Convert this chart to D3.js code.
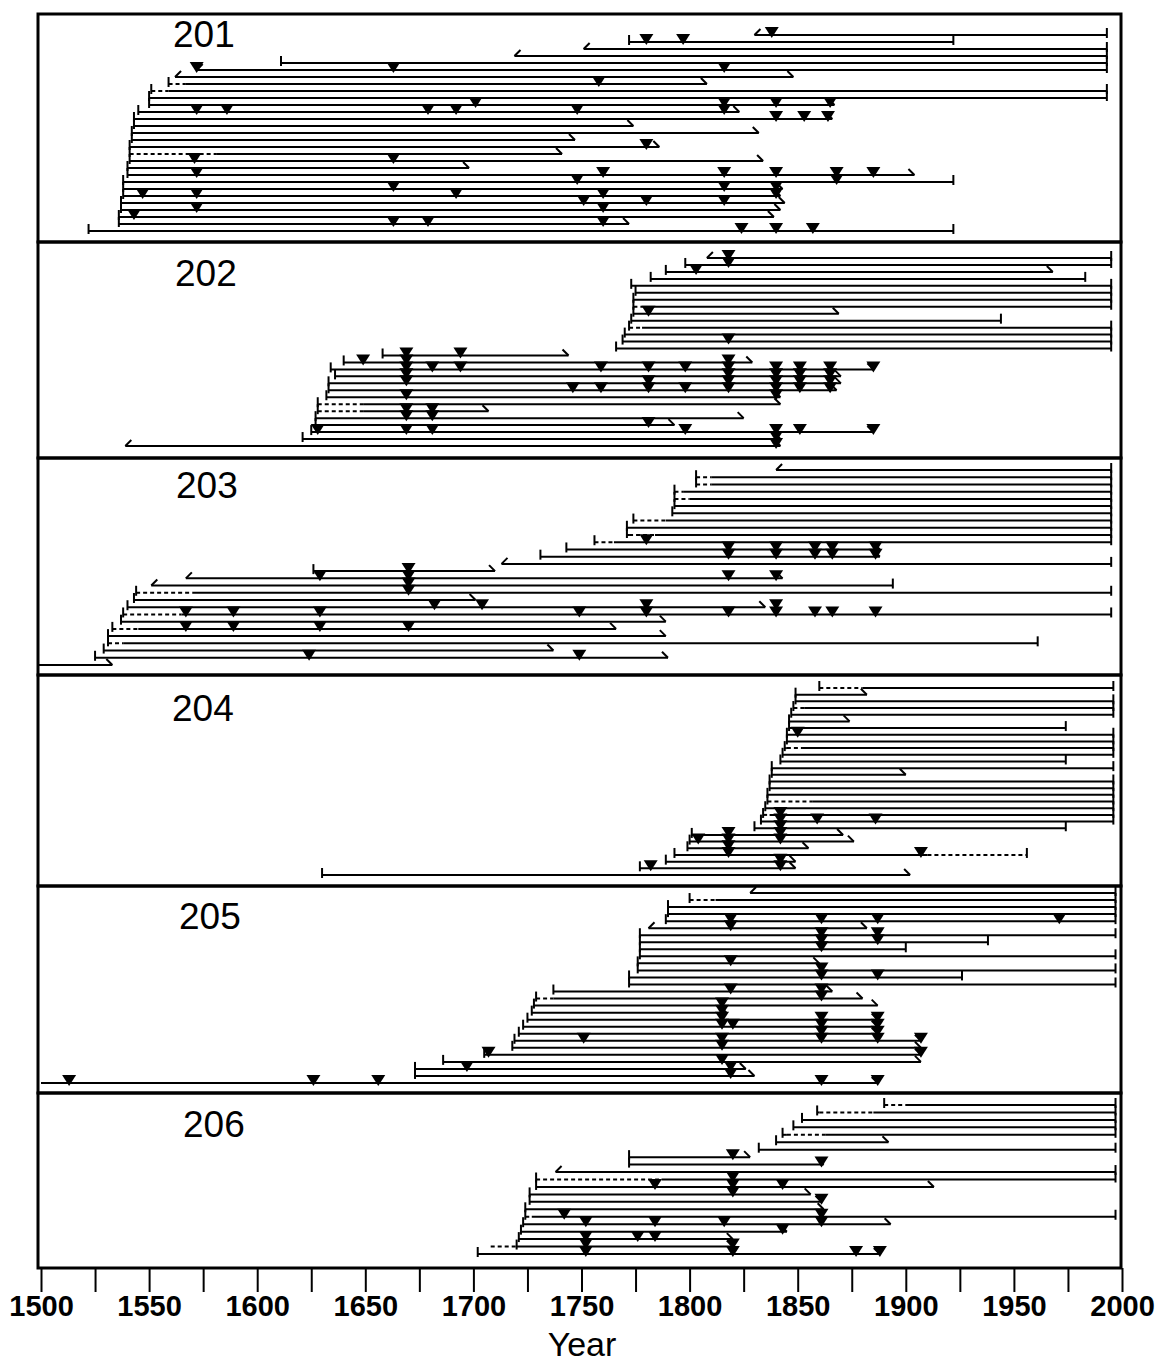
<!DOCTYPE html>
<html><head><meta charset="utf-8">
<script src="https://cdn.jsdelivr.net/npm/d3@7"></script>
<style>body{margin:0;background:#fff}svg{display:block}</style>
</head><body>
<script>
// Site labels and axis years
const panelIds = ["201", "202", "203", "204", "205", "206"];
const tickYears = d3.range(1500, 2001, 25);
const labelYears = d3.range(1500, 2001, 50);

// One record per sampled tree, top to bottom within each site.
// s/e: first and last year; st: p = pith, i = inner ring, n = none; et: b = bark, o = outer ring
// d: non-recording span (dashed); f: fire-scar years
const trees201 = [
  {s:1830, st:"i", e:1993, et:"b", f:[1838]},
  {s:1772, st:"p", e:1922, et:"b", f:[1780, 1797]},
  {s:1751, st:"i", e:1993, et:"b", f:[]},
  {s:1719, st:"i", e:1993, et:"b", f:[]},
  {s:1611, st:"p", e:1993, et:"b", f:[]},
  {s:1572, st:"i", e:1993, et:"b", f:[1572, 1663, 1816]},
  {s:1562, st:"i", e:1848, et:"o", f:[]},
  {s:1559, st:"p", d:[1559, 1567], e:1808, et:"o", f:[1758]},
  {s:1551, st:"p", d:[1551, 1559], e:1993, et:"b", f:[]},
  {s:1550, st:"p", e:1993, et:"b", f:[]},
  {s:1550, st:"p", e:1867, et:"o", f:[1701, 1816, 1840, 1865]},
  {s:1545, st:"p", e:1823, et:"o", f:[1572, 1586, 1679, 1692, 1748, 1816]},
  {s:1543, st:"p", e:1866, et:"o", f:[1840, 1853, 1864]},
  {s:1543, st:"p", e:1774, et:"o", f:[]},
  {s:1542, st:"p", e:1832, et:"o", f:[]},
  {s:1542, st:"p", e:1747, et:"o", f:[]},
  {s:1541, st:"p", e:1786, et:"o", f:[1780]},
  {s:1541, st:"p", d:[1541, 1581], e:1741, et:"o", f:[]},
  {s:1541, st:"p", e:1834, et:"o", f:[1571, 1663]},
  {s:1540, st:"p", e:1698, et:"o", f:[]},
  {s:1540, st:"p", e:1904, et:"o", f:[1572, 1760, 1816, 1840, 1868, 1885]},
  {s:1538, st:"p", e:1922, et:"b", f:[1748, 1868]},
  {s:1538, st:"p", e:1843, et:"o", f:[1663, 1816, 1840]},
  {s:1538, st:"p", e:1842, et:"o", f:[1547, 1572, 1692, 1760, 1840]},
  {s:1537, st:"p", e:1844, et:"o", f:[1751, 1780, 1816]},
  {s:1537, st:"p", e:1842, et:"o", f:[1572, 1760]},
  {s:1536, st:"p", e:1839, et:"o", f:[1543]},
  {s:1536, st:"p", e:1772, et:"o", f:[1663, 1679, 1760]},
  {s:1522, st:"p", e:1922, et:"b", f:[1824, 1840, 1857]}
];
const trees202 = [
  {s:1808, st:"i", e:1995, et:"b", f:[1818]},
  {s:1798, st:"p", e:1995, et:"b", f:[1818]},
  {s:1789, st:"p", e:1968, et:"o", f:[1803]},
  {s:1782, st:"p", e:1983, et:"b", f:[]},
  {s:1773, st:"p", e:1995, et:"b", f:[]},
  {s:1775, st:"p", e:1995, et:"b", f:[]},
  {s:1774, st:"p", e:1995, et:"b", f:[]},
  {s:1774, st:"p", d:[1774, 1778], e:1995, et:"b", f:[]},
  {s:1774, st:"p", e:1869, et:"o", f:[1781]},
  {s:1773, st:"p", e:1944, et:"b", f:[]},
  {s:1772, st:"p", d:[1772, 1778], e:1995, et:"b", f:[]},
  {s:1770, st:"p", e:1995, et:"b", f:[]},
  {s:1769, st:"p", e:1995, et:"b", f:[1818]},
  {s:1766, st:"p", e:1995, et:"b", f:[]},
  {s:1658, st:"p", e:1744, et:"o", f:[1669, 1694]},
  {s:1640, st:"p", e:1829, et:"o", f:[1649, 1669, 1818]},
  {s:1634, st:"p", e:1885, et:"o", f:[1669, 1681, 1694, 1759, 1781, 1798, 1818, 1840, 1851, 1865, 1885]},
  {s:1636, st:"p", e:1870, et:"o", f:[1669, 1818, 1840, 1851, 1865]},
  {s:1633, st:"p", e:1870, et:"o", f:[1669, 1781, 1818, 1840, 1851, 1865]},
  {s:1633, st:"p", e:1868, et:"o", f:[1746, 1759, 1781, 1798, 1818, 1840, 1851, 1865]},
  {s:1632, st:"p", e:1842, et:"o", f:[1669, 1840]},
  {s:1628, st:"p", d:[1628, 1649], e:1842, et:"o", f:[]},
  {s:1628, st:"p", d:[1628, 1649], e:1707, et:"o", f:[1669, 1681]},
  {s:1627, st:"p", e:1825, et:"o", f:[1669, 1681]},
  {s:1627, st:"p", e:1793, et:"o", f:[1781]},
  {s:1625, st:"p", e:1885, et:"o", f:[1628, 1669, 1681, 1798, 1840, 1851, 1885]},
  {s:1621, st:"p", e:1842, et:"o", f:[1840]},
  {s:1539, st:"i", e:1842, et:"o", f:[1840]}
];
const trees203 = [
  {s:1840, st:"i", e:1995, et:"b", f:[]},
  {s:1803, st:"p", d:[1803, 1810], e:1995, et:"b", f:[]},
  {s:1803, st:"p", d:[1803, 1810], e:1995, et:"b", f:[]},
  {s:1793, st:"p", d:[1793, 1797], e:1995, et:"b", f:[]},
  {s:1793, st:"p", d:[1793, 1800], e:1995, et:"b", f:[]},
  {s:1793, st:"p", e:1995, et:"b", f:[]},
  {s:1792, st:"p", e:1995, et:"b", f:[]},
  {s:1774, st:"p", d:[1774, 1789], e:1995, et:"b", f:[]},
  {s:1771, st:"p", e:1995, et:"b", f:[]},
  {s:1771, st:"p", d:[1772, 1784], e:1995, et:"b", f:[]},
  {s:1756, st:"p", d:[1756, 1765], e:1995, et:"b", f:[1780]},
  {s:1743, st:"p", e:1888, et:"o", f:[1818, 1840, 1858, 1866, 1886]},
  {s:1731, st:"p", e:1888, et:"o", f:[1818, 1840, 1858, 1866, 1886]},
  {s:1713, st:"i", e:1995, et:"b", f:[]},
  {s:1626, st:"p", e:1710, et:"o", f:[1670]},
  {s:1567, st:"i", e:1843, et:"o", f:[1629, 1670, 1818, 1840]},
  {s:1551, st:"i", e:1894, et:"b", f:[1670]},
  {s:1544, st:"p", d:[1544, 1570], e:1995, et:"b", f:[1670]},
  {s:1543, st:"p", e:1701, et:"o", f:[]},
  {s:1540, st:"p", e:1835, et:"o", f:[1682, 1704, 1780, 1840]},
  {s:1538, st:"p", d:[1538, 1565], e:1995, et:"b", f:[1567, 1589, 1629, 1749, 1780, 1818, 1840, 1858, 1866, 1886]},
  {s:1537, st:"p", e:1789, et:"o", f:[]},
  {s:1533, st:"p", d:[1533, 1545], e:1766, et:"o", f:[1567, 1589, 1629, 1670]},
  {s:1531, st:"p", e:1789, et:"o", f:[]},
  {s:1531, st:"p", d:[1531, 1538], e:1961, et:"b", f:[]},
  {s:1529, st:"p", e:1737, et:"o", f:[]},
  {s:1525, st:"p", e:1790, et:"o", f:[1624, 1749]},
  {s:1499, st:"n", e:1533, et:"o", f:[]}
];
const trees204 = [
  {s:1860, st:"p", d:[1860, 1880], e:1996, et:"b", f:[]},
  {s:1849, st:"p", e:1882, et:"o", f:[]},
  {s:1849, st:"p", e:1996, et:"b", f:[]},
  {s:1848, st:"p", d:[1848, 1853], e:1996, et:"b", f:[]},
  {s:1847, st:"p", e:1996, et:"b", f:[]},
  {s:1846, st:"p", e:1874, et:"o", f:[]},
  {s:1846, st:"p", e:1974, et:"b", f:[]},
  {s:1845, st:"p", e:1996, et:"b", f:[1850]},
  {s:1845, st:"p", e:1996, et:"b", f:[]},
  {s:1844, st:"p", d:[1845, 1852], e:1996, et:"b", f:[]},
  {s:1843, st:"p", e:1996, et:"b", f:[]},
  {s:1842, st:"p", e:1974, et:"b", f:[]},
  {s:1838, st:"p", e:1996, et:"b", f:[]},
  {s:1838, st:"p", e:1900, et:"o", f:[]},
  {s:1837, st:"p", e:1996, et:"b", f:[]},
  {s:1837, st:"p", e:1996, et:"b", f:[]},
  {s:1836, st:"p", e:1996, et:"b", f:[]},
  {s:1836, st:"p", d:[1836, 1857], e:1996, et:"b", f:[]},
  {s:1835, st:"p", e:1996, et:"b", f:[]},
  {s:1834, st:"p", d:[1834, 1837], e:1996, et:"b", f:[1842]},
  {s:1833, st:"p", e:1996, et:"b", f:[1842, 1859, 1886]},
  {s:1830, st:"p", e:1974, et:"b", f:[1842]},
  {s:1801, st:"p", e:1871, et:"o", f:[1818, 1842]},
  {s:1800, st:"p", e:1876, et:"o", f:[1804, 1818, 1842]},
  {s:1799, st:"p", e:1855, et:"o", f:[1818]},
  {s:1793, st:"p", d:[1910, 1956], e:1956, et:"b", f:[1818, 1907]},
  {s:1789, st:"p", e:1849, et:"o", f:[1842]},
  {s:1777, st:"p", e:1849, et:"o", f:[1782, 1842]},
  {s:1630, st:"p", e:1902, et:"o", f:[]}
];
const trees205 = [
  {s:1828, st:"i", e:1997, et:"b", f:[]},
  {s:1800, st:"p", d:[1800, 1812], e:1997, et:"b", f:[]},
  {s:1790, st:"p", e:1997, et:"b", f:[]},
  {s:1790, st:"p", e:1997, et:"b", f:[]},
  {s:1789, st:"p", e:1997, et:"b", f:[1819, 1861, 1887, 1971]},
  {s:1781, st:"i", e:1882, et:"o", f:[1819]},
  {s:1777, st:"p", e:1997, et:"b", f:[1861, 1887]},
  {s:1777, st:"p", e:1938, et:"b", f:[1861, 1887]},
  {s:1777, st:"p", e:1900, et:"b", f:[1861]},
  {s:1777, st:"p", e:1997, et:"b", f:[]},
  {s:1776, st:"p", e:1860, et:"o", f:[1819]},
  {s:1776, st:"p", e:1997, et:"b", f:[1861]},
  {s:1772, st:"p", e:1926, et:"b", f:[1861, 1887]},
  {s:1772, st:"p", e:1997, et:"b", f:[]},
  {s:1737, st:"p", e:1866, et:"o", f:[1819, 1861]},
  {s:1729, st:"p", d:[1729, 1737], e:1880, et:"o", f:[1861]},
  {s:1728, st:"p", e:1887, et:"o", f:[1815]},
  {s:1727, st:"p", e:1817, et:"o", f:[1815]},
  {s:1725, st:"p", e:1887, et:"o", f:[1815, 1861, 1887]},
  {s:1723, st:"p", e:1887, et:"o", f:[1815, 1820, 1861, 1887]},
  {s:1721, st:"p", e:1887, et:"o", f:[1861, 1887]},
  {s:1719, st:"p", e:1907, et:"o", f:[1751, 1815, 1861, 1887, 1907]},
  {s:1718, st:"p", e:1907, et:"o", f:[1815]},
  {s:1705, st:"p", e:1907, et:"o", f:[1707, 1907]},
  {s:1686, st:"p", e:1907, et:"o", f:[1815]},
  {s:1673, st:"p", e:1826, et:"o", f:[1697, 1819]},
  {s:1673, st:"p", e:1830, et:"o", f:[1819]},
  {s:1500, st:"n", e:1887, et:"o", f:[1513, 1626, 1656, 1861, 1887]}
];
const trees206 = [
  {s:1890, st:"p", d:[1890, 1900], e:1997, et:"b", f:[]},
  {s:1859, st:"p", d:[1860, 1885], e:1997, et:"b", f:[]},
  {s:1852, st:"p", e:1997, et:"b", f:[]},
  {s:1848, st:"p", e:1997, et:"b", f:[]},
  {s:1843, st:"p", d:[1845, 1863], e:1997, et:"b", f:[]},
  {s:1840, st:"p", e:1892, et:"o", f:[]},
  {s:1832, st:"p", e:1997, et:"b", f:[]},
  {s:1772, st:"p", e:1828, et:"o", f:[1820]},
  {s:1772, st:"p", e:1862, et:"o", f:[1861]},
  {s:1738, st:"i", e:1997, et:"b", f:[]},
  {s:1729, st:"p", d:[1729, 1787], e:1997, et:"b", f:[1820]},
  {s:1729, st:"p", e:1913, et:"o", f:[1784, 1820, 1843]},
  {s:1726, st:"p", e:1856, et:"o", f:[1820]},
  {s:1726, st:"p", e:1861, et:"o", f:[1861]},
  {s:1724, st:"p", e:1862, et:"o", f:[]},
  {s:1724, st:"p", d:[1724, 1727], e:1997, et:"b", f:[1742, 1861]},
  {s:1723, st:"p", e:1893, et:"o", f:[1752, 1784, 1816, 1861]},
  {s:1722, st:"p", e:1845, et:"o", f:[1843]},
  {s:1721, st:"p", e:1820, et:"o", f:[1752, 1776, 1784]},
  {s:1720, st:"p", d:[1708, 1720], e:1820, et:"o", f:[1752, 1820]},
  {s:1702, st:"p", e:1888, et:"o", f:[1752, 1820, 1877, 1888]}
];
const panelTrees = [trees201, trees202, trees203, trees204, trees205, trees206];

// Layout
const W = 1160, H = 1362;
const frameLeft = 38, frameRight = 1121;
const panelBounds = [[14, 242], [242, 458], [458, 675], [675, 886], [886, 1093], [1093, 1268]];
const rowRanges = [[35, 231], [258, 446], [470, 665], [688, 875], [893, 1083], [1105, 1254]];
const labelAnchors = [[173, 47], [175, 286], [176, 498], [172, 721], [179, 929], [183, 1137]];

const x = d3.scaleLinear().domain([1500, 2000]).range([41, 1122]);

const svg = d3.select("body").append("svg")
  .attr("width", W).attr("height", H)
  .attr("font-family", "'Liberation Sans', Arial, sans-serif");

svg.append("rect").attr("width", W).attr("height", H).attr("fill", "#fff");

const LW = 2;

function segs(r) {
  // split a record into solid and dashed pieces
  if (!r.d) return [{a: r.s, b: r.e, dash: false}];
  const out = [];
  if (r.d[0] > r.s) out.push({a: r.s, b: r.d[0], dash: false});
  out.push({a: Math.max(r.d[0], r.s - 12), b: r.d[1], dash: true});
  if (r.e > r.d[1]) out.push({a: r.d[1], b: r.e, dash: false});
  return out;
}

panelTrees.forEach((rows, p) => {
  const g = svg.append("g").attr("class", "site-" + panelIds[p]);
  const y = d3.scalePoint().domain(d3.range(rows.length)).range(rowRanges[p]);

  const rowG = g.selectAll("g.tree").data(rows).join("g").attr("class", "tree")
    .attr("transform", (d, i) => `translate(0,${y(i)})`);

  // record lines
  rowG.selectAll("line.seg").data(d => segs(d)).join("line").attr("class", "seg")
    .attr("x1", d => x(d.a)).attr("x2", d => x(d.b))
    .attr("y1", 0).attr("y2", 0)
    .attr("stroke", "#000").attr("stroke-width", LW)
    .attr("stroke-dasharray", d => d.dash ? "4,3" : null);

  // pith and bark bars
  rowG.filter(d => d.st === "p").append("line")
    .attr("x1", d => x(d.s)).attr("x2", d => x(d.s))
    .attr("y1", -7).attr("y2", 3)
    .attr("stroke", "#000").attr("stroke-width", LW);
  rowG.filter(d => d.et === "b").append("line")
    .attr("x1", d => x(d.e)).attr("x2", d => x(d.e))
    .attr("y1", -7).attr("y2", 3)
    .attr("stroke", "#000").attr("stroke-width", LW);

  // inner- and outer-ring ticks
  rowG.filter(d => d.st === "i").append("path")
    .attr("d", d => `M${x(d.s) + 6},-6L${x(d.s)},0`)
    .attr("fill", "none").attr("stroke", "#000").attr("stroke-width", LW);
  rowG.filter(d => d.et === "o").append("path")
    .attr("d", d => `M${x(d.e) - 6},-6L${x(d.e)},0`)
    .attr("fill", "none").attr("stroke", "#000").attr("stroke-width", LW);

  // fire scars
  rowG.selectAll("path.scar").data(d => d.f || []).join("path").attr("class", "scar")
    .attr("d", yr => `M${x(yr) - 7},-8L${x(yr) + 7},-8L${x(yr)},3Z`)
    .attr("fill", "#000");

  // panel frame and site label
  const [t, b] = panelBounds[p];
  g.append("rect")
    .attr("x", frameLeft).attr("y", t)
    .attr("width", frameRight - frameLeft).attr("height", b - t)
    .attr("fill", "none").attr("stroke", "#000").attr("stroke-width", 3);
  g.append("text")
    .attr("x", labelAnchors[p][0]).attr("y", labelAnchors[p][1])
    .attr("font-size", 37).attr("fill", "#000")
    .text(panelIds[p]);
});

// year axis
const axis = d3.axisBottom(x)
  .tickValues(tickYears)
  .tickSize(24)
  .tickFormat(d => labelYears.includes(d) ? d : "");
const ax = svg.append("g").attr("transform", `translate(0,${panelBounds[5][1]})`).call(axis);
ax.select(".domain").remove();
ax.selectAll(".tick line").attr("stroke", "#000").attr("stroke-width", 2);
ax.selectAll(".tick text").attr("font-size", 29).attr("font-weight", "bold").attr("fill", "#000")
  .attr("font-family", "'Liberation Sans', Arial, sans-serif").attr("y", 27);

svg.append("text")
  .attr("x", 582).attr("y", 1356)
  .attr("text-anchor", "middle").attr("font-size", 34).attr("fill", "#000")
  .text("Year");
</script>
</body></html>
